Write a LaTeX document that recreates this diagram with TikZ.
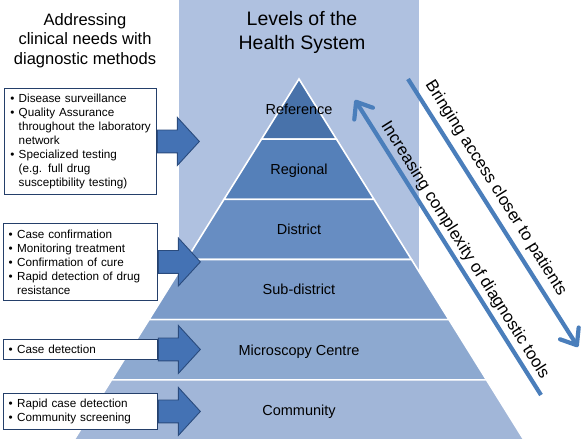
\documentclass[tikz,border=0pt]{standalone}
\usepackage{fontspec}
\setmainfont{Liberation Sans}
\usetikzlibrary{arrows.meta,shapes.arrows}
\definecolor{sysback}{HTML}{AFC1E0}
\definecolor{lvlA}{HTML}{4872AA}
\definecolor{lvlB}{HTML}{5580B9}
\definecolor{lvlC}{HTML}{678DC2}
\definecolor{lvlD}{HTML}{7B9BC9}
\definecolor{lvlE}{HTML}{8DA9D0}
\definecolor{lvlF}{HTML}{A1B6D8}
\definecolor{boxline}{HTML}{243F6A}
\definecolor{pointfill}{HTML}{4472B4}
\definecolor{pointline}{HTML}{2A4B7D}
\definecolor{trendblue}{HTML}{4A7EBB}
\newcommand{\bul}{\makebox[8.5pt][l]{\textbullet}}
\newcommand{\bulind}{\hspace*{8.5pt}}
\tikzset{
    needbox/.style={draw=boxline, fill=white, line width=0.9pt, anchor=north west,
        inner xsep=5.5pt, inner ysep=0pt, text width=143.3pt, align=left,
        font=\fontsize{11.7}{14}\selectfont},
    needarrow/.style={single arrow, draw=pointline, fill=pointfill, line width=0.9pt,
        minimum height=42pt, minimum width=47pt, single arrow head extend=12.5pt,
        single arrow tip angle=95, inner xsep=0pt, inner ysep=11pt, anchor=tail},
    levellabel/.style={font=\fontsize{14.5}{17}\selectfont, text height=10.5pt,
        text depth=3pt, inner sep=0pt},
    trend/.style={draw=trendblue, line width=4.2pt,
        -{Straight Barb[length=14pt,width=22pt,round]}},
    trendlabel/.style={font=\fontsize{16.8}{20}\selectfont, rotate=-57.7, anchor=south}
}
\begin{document}
\begin{tikzpicture}[x=1pt,y=-1pt]
    \useasboundingbox
        (0,0) rectangle (587,440);
    \fill[sysback]
        (179,0) rectangle (419,440);
    \foreach \i/\col/\lab in {0/lvlA/Reference,1/lvlB/Regional,2/lvlC/District,
        3/lvlD/Sub-district,4/lvlE/Microscopy Centre,5/lvlF/Community}{
        \filldraw[fill=\col, draw=white, line width=1.6pt]
            ({299-37.5*\i},{79+60.17*\i}) -- ({299+37.5*\i},{79+60.17*\i})
            -- ({299+37.5*(\i+1)},{79+60.17*(\i+1)}) -- ({299-37.5*(\i+1)},{79+60.17*(\i+1)}) -- cycle;
        \node[levellabel] (lvl\i) at (299,{80.5+60.17*(\i+0.5)}) {\lab};
    }
    \node[font=\fontsize{16.5}{19.5}\selectfont, align=center] (needtitle)
        at (85,40.5) {Addressing\\clinical needs with\\diagnostic methods};
    \node[font=\fontsize{19.5}{24}\selectfont, align=center] (systitle)
        at (302,32) {Levels of the\\Health System};
    \node[needbox, text width=140.7pt, minimum height=106pt] (need1) at (4.3,88)
        {\bul Disease surveillance\\ \bul Quality Assurance\\ \bulind throughout the laboratory\\
        \bulind network\\ \bul Specialized testing\\ \bulind (e.g. full drug\\
        \bulind susceptibility testing)};
    \node[needbox, minimum height=77pt] (need2) at (2.7,223)
        {\bul Case confirmation\\ \bul Monitoring treatment\\ \bul Confirmation of cure\\
        \bul Rapid detection of drug\\ \bulind resistance};
    \node[needbox, minimum height=20pt] (need3) at (2.7,339)
        {\bul Case detection};
    \node[needbox, minimum height=36pt] (need4) at (2.7,393)
        {\bul Rapid case detection\\ \bul Community screening};
    \node[needarrow] (point1) at (need1.east) {};
    \node[needarrow] (point2) at (need2.east) {};
    \node[needarrow] (point3) at (need3.east) {};
    \node[needarrow] (point4) at (need4.east) {};
    \coordinate (moreTail) at (541,395);
    \coordinate (moreTip) at (355,100);
    \coordinate (nearTail) at (408,79);
    \coordinate (nearTip) at (578,347);
    \draw[trend]
        (moreTail) -- (moreTip) node[trendlabel, pos=0.467, inner sep=2.7pt] (moretext)
        {Increasing complexity of diagnostic tools};
    \draw[trend]
        (nearTail) -- (nearTip) node[trendlabel, pos=0.438, inner sep=5.6pt] (neartext)
        {Bringing access closer to patients};
\end{tikzpicture}
\end{document}
